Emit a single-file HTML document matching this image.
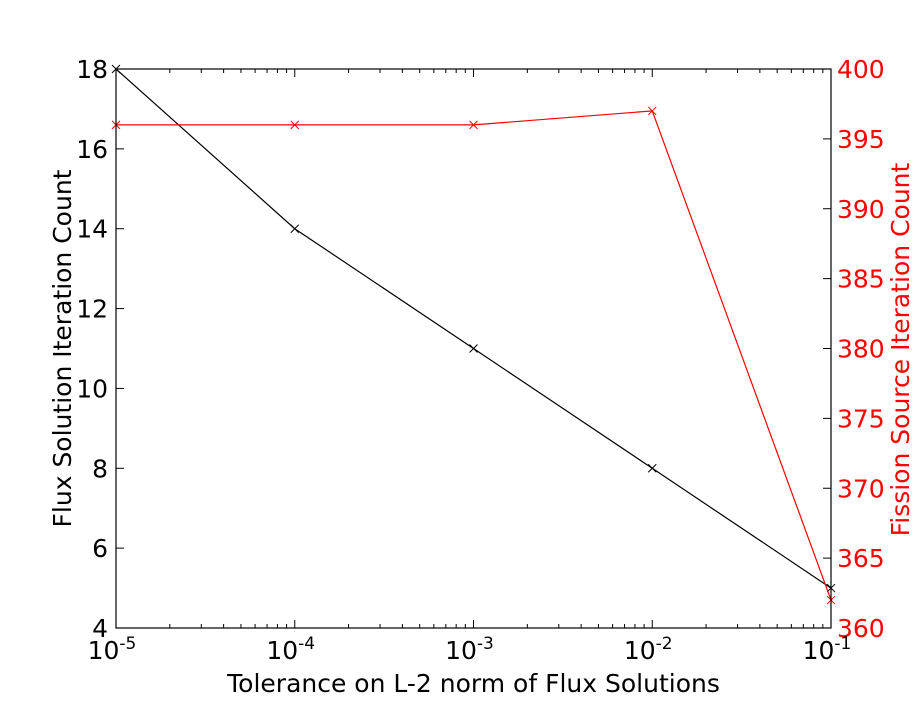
<!DOCTYPE html>
<html><head><meta charset="utf-8"><style>
body{margin:0;background:#fff;}
svg text{font-family:"DejaVu Sans","Liberation Sans",sans-serif;}
</style></head><body>
<svg id="chart" width="923" height="698" xmlns="http://www.w3.org/2000/svg"></svg>
<script>
const xValues = [1e-5, 1e-4, 1e-3, 1e-2, 1e-1];
const fluxCounts = [18, 14, 11, 8, 5];
const fissionCounts = [396, 396, 396, 397, 362];
const leftTicks = [4, 6, 8, 10, 12, 14, 16, 18];
const rightTicks = [360, 365, 370, 375, 380, 385, 390, 395, 400];
const xTickExps = [-5, -4, -3, -2, -1];

const L = 116, R = 831, T = 69, B = 628;
const svg = document.getElementById('chart');
const NS = 'http://www.w3.org/2000/svg';
function xs(v){ return L + (Math.log10(v) + 5) / 4 * (R - L); }
function yl(v){ return B - (v - 4) / 14 * (B - T); }
function yr(v){ return B - (v - 360) / 40 * (B - T); }
function mk(tag, attrs, parent){
  const e = document.createElementNS(NS, tag);
  for (const k in attrs) e.setAttribute(k, attrs[k]);
  (parent || svg).appendChild(e);
  return e;
}

const ticksG = mk('g', {});


for (let e = -5; e < -1; e++) {
  for (let m = 1; m <= 9; m++) {
    const x = xs(m * Math.pow(10, e));
    const len = m === 1 ? 8 : 4;
    mk('line', {x1:x, x2:x, y1:B, y2:B-len, stroke:'#000'}, ticksG);
    mk('line', {x1:x, x2:x, y1:T, y2:T+len, stroke:'#000'}, ticksG);
  }
}
leftTicks.forEach(v => {
  const y = yl(v);
  mk('line', {x1:L, x2:L+8, y1:y, y2:y, stroke:'#000'}, ticksG);
  const t = mk('text', {x:L-8, y:y+9, 'text-anchor':'end', 'font-size':25, fill:'#000'});
  t.textContent = v;
  
  
});
rightTicks.forEach(v => {
  const y = yr(v);
  mk('line', {x1:R, x2:R-8, y1:y, y2:y, stroke:'#000'}, ticksG);
  const t = mk('text', {x:R+6, y:y+9, 'text-anchor':'start', 'font-size':25, fill:'#f00'});
  t.textContent = v;
  
  
});
xTickExps.forEach(e => {
  const x = xs(Math.pow(10, e));
  const t = mk('text', {x:x-4, y:659, 'text-anchor':'middle', 'font-size':25, fill:'#000'});
  t.innerHTML = '10<tspan dy="-10" font-size="17">' + e + '</tspan>';
  
  
});

function series(vals, yf, color, name){
  const g = mk('g', {});
  
  
  const pts = vals.map((v,i) => xs(xValues[i]) + ',' + yf(v)).join(' ');
  mk('polyline', {points:pts, fill:'none', stroke:color, 'stroke-width':1.2}, g);
  vals.forEach((v,i) => {
    const x = xs(xValues[i]), y = yf(v), s = 4;
    const p = mk('path', {d:`M${x-s},${y-s}L${x+s},${y+s}M${x-s},${y+s}L${x+s},${y-s}`, stroke:color, 'stroke-width':1}, g);
    
    
  });
}
series(fluxCounts, yl, '#000', 'flux-series');
series(fissionCounts, yr, '#f00', 'fission-series');

const frame = mk('rect', {x:L, y:T, width:R-L, height:B-T, fill:'none', stroke:'#000', 'stroke-width':1.2});



const xt = mk('text', {x:(L+R)/2, y:692, 'text-anchor':'middle', 'font-size':25, fill:'#000'});
xt.textContent = 'Tolerance on L-2 norm of Flux Solutions';


const ylt = mk('text', {x:0, y:0, 'text-anchor':'middle', 'font-size':25, fill:'#000', transform:`translate(71,${(T+B)/2}) rotate(-90)`});
ylt.textContent = 'Flux Solution Iteration Count';


const yrt = mk('text', {x:0, y:0, 'text-anchor':'middle', 'font-size':25, fill:'#f00', transform:`translate(909,${(T+B)/2+1}) rotate(-90)`});
yrt.textContent = 'Fission Source Iteration Count';


</script>
</body></html>
